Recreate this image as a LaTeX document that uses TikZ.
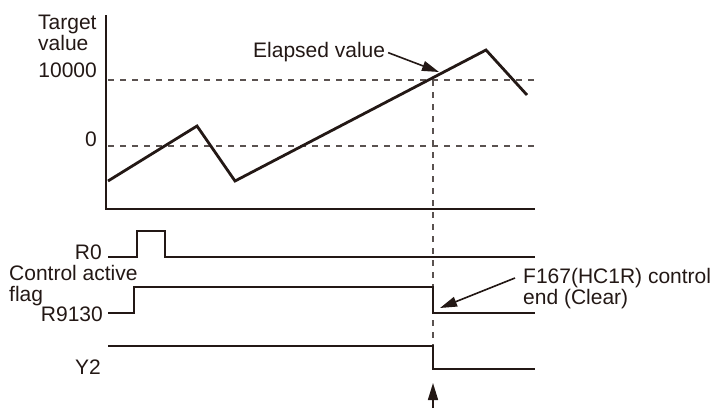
\documentclass[tikz,border=0pt]{standalone}
\usepackage{fontspec}
\setmainfont{Liberation Sans}
\usetikzlibrary{arrows.meta, positioning}
\definecolor{ink}{RGB}{35, 24, 21}

\begin{document}
\begin{tikzpicture}[x=1pt, y=-1pt,
    every node/.style={inner sep=0pt, font=\fontsize{21}{21}\selectfont, text=ink},
    axis/.style={ink, line width=1.4pt},
    wave/.style={ink, line width=2.8pt, line join=miter},
    guide/.style={ink!75, line width=1.3pt, dash pattern=on 6pt off 6pt},
    pointer/.style={-{Triangle[length=17pt, width=10pt]}, ink, line width=1.6pt}
  ]
    \useasboundingbox (0,0) rectangle (715,408);
    % axes and guide lines
    \draw[axis] (106,15) -- (106,209) -- (535,209);
    \foreach \y in {80,146}{
      \draw[guide] (108,\y) -- (535,\y);
    }
    \draw[guide] (433,80) -- (433,346);
    % elapsed value
    \draw[wave] (108,181) -- (197,126) -- (235,181) -- (486,50) -- (527,95);
    % timing chart
    \draw[wave] (108,257) -- (137,257) -- (137,231) -- (165,231) -- (165,257) -- (535,257);
    \draw[wave] (108,313) -- (134,313) -- (134,287) -- (433,287) -- (433,313) -- (535,313);
    \draw[wave] (108,346) -- (433,346) -- (433,369) -- (535,369);
    % labels
    \node[anchor=north west, align=left] (target) at (38,15) {Target\\value};
    \node[anchor=base east] (tenk) at (97,77) {10000};
    \node[anchor=base east] (zero) at (97,146) {0};
    \node[anchor=base west] (elapsed) at (253,57) {Elapsed value};
    \node[anchor=base east] (r0) at (102,259) {R0};
    \node[anchor=north west, align=left] (flag) at (9,265) {Control active\\flag};
    \node[anchor=base east] (r9130) at (103,321) {R9130};
    \node[anchor=base east] (y2) at (101,374) {Y2};
    \node[anchor=north west, align=left] (f167) at (523,268) {F167(HC1R) control\\end (Clear)};
    % pointers
    \coordinate (elapsedtip) at (439,72);
    \coordinate (cleartip) at (440,308);
    \coordinate (edgetip) at (433,383);
    \coordinate (edgefoot) at (433,408);
    \draw[pointer, shorten <=3pt] (elapsed.east) -- (elapsedtip);
    \draw[pointer] ([shift={(-8pt,-10pt)}]f167.north west) -- (cleartip);
    \draw[pointer] (edgefoot) -- (edgetip);
  \end{tikzpicture}
\end{document}
